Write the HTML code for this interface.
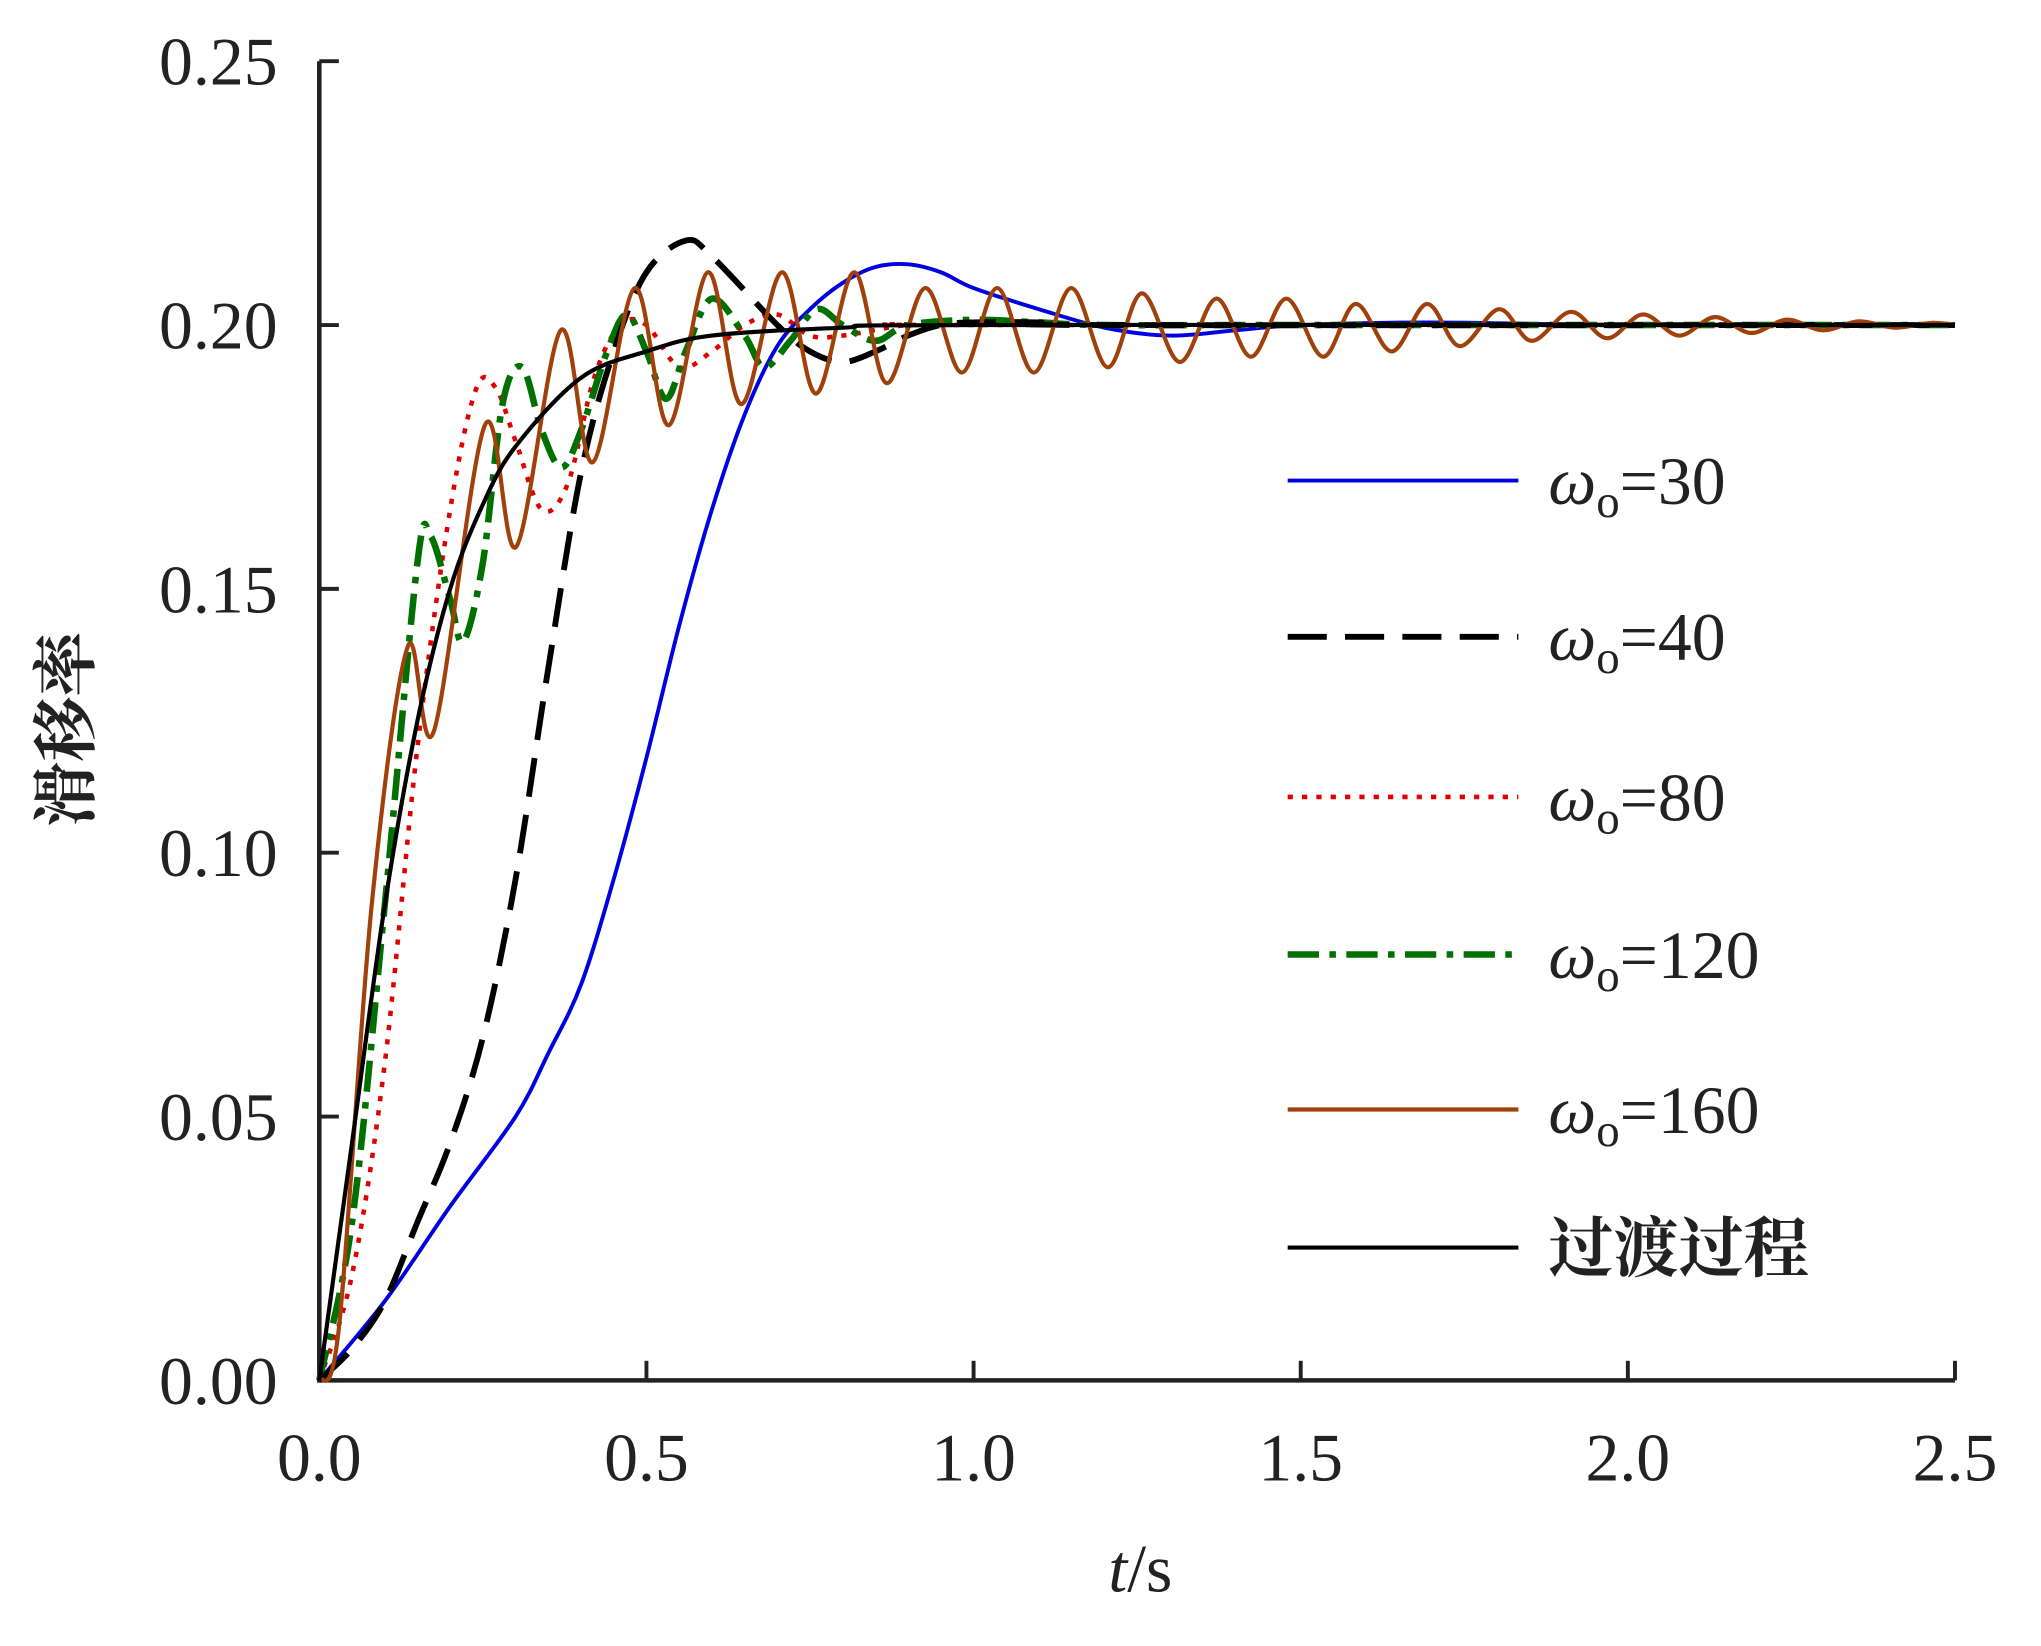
<!DOCTYPE html>
<html><head><meta charset="utf-8"><style>
html,body{margin:0;padding:0;background:#fff;}
svg{display:block;}
text{font-family:"Liberation Serif","Noto Serif CJK SC",serif;fill:#222;}
</style></head><body>
<svg id="chart" width="2041" height="1646" viewBox="0 0 1566 1264" preserveAspectRatio="none" xmlns="http://www.w3.org/2000/svg">
<g id="axes"></g>
<g id="series"></g>
<g id="legend"></g>
</svg>
<script>
const xTicks=[0,0.5,1.0,1.5,2.0,2.5];
const xTickLabels=["0.0","0.5","1.0","1.5","2.0","2.5"];
const yTicks=[0,0.05,0.10,0.15,0.20,0.25];
const yTickLabels=["0.00","0.05","0.10","0.15","0.20","0.25"];
const seriesNames=["ω30","ω40","ω80","ω120","ω160","过渡过程"];
const t30=[0,.1,.2,.3,.35,.4,.45,.5,.55,.6,.65,.7,.75,.8,.85,.9,.95,1.0,1.1,1.2,1.3,1.4,1.5,1.7,2.0,2.5];
const v30=[0,.015,.033,.05,.062,.075,.095,.118,.143,.165,.183,.196,.203,.208,.211,.2115,.21,.207,.203,.1995,.198,.199,.2,.2005,.2,.2];
const t40=[0,.05,.1,.15,.2,.25,.3,.35,.4,.45,.5,.56,.6,.7,.75,.8,.85,.9,.95,1.0,1.1,1.2,2.5];
const v40=[0,.006,.015,.03,.045,.065,.095,.135,.172,.195,.21,.216,.213,.2,.195,.193,.195,.198,.2,.2005,.2005,.2,.2];
const t80=[0,.05,.1,.15,.2,.24,.27,.3,.34,.38,.42,.46,.5,.55,.6,.65,.7,.75,.8,.9,1.0,2.5];
const v80=[0,.02,.06,.12,.165,.188,.188,.178,.165,.17,.19,.2,.2,.192,.195,.2,.202,.198,.198,.2,.2,.2];
const t120=[0,.05,.1,.15,.17,.2,.22,.25,.28,.31,.34,.37,.4,.44,.47,.5,.53,.56,.6,.65,.68,.72,.76,.8,.85,.9,1.0,1.1,1.2,1.5,2.5];
const v120=[0,.03,.09,.155,.16,.148,.14,.155,.185,.192,.18,.173,.18,.195,.202,.195,.186,.195,.205,.198,.192,.197,.203,.2,.197,.2,.201,.2005,.2,.2,.2];
const t160=[0,.03,.08,.135,.175,.253,.301,.369,.418,.482,.534,.594,.645,.707,.759,.817,.867,.926,.982,1.036,1.092,1.149,1.205,1.257,1.315,1.371,1.424,1.478,1.534,1.584,1.639,1.693,1.743,1.803,1.853,1.913,1.968,2.023,2.078,2.133,2.188,2.243,2.298,2.353,2.408,2.463,2.5];
const v160=[0,.01,.09,.139,.123,.181,.158,.199,.174,.207,.181,.21,.185,.21,.187,.21,.189,.207,.191,.207,.191,.207,.192,.206,.193,.205,.194,.205,.194,.204,.195,.204,.196,.203,.197,.2025,.1975,.202,.198,.2015,.1985,.201,.199,.2007,.1995,.2004,.2];
const tT=[0,.05,.1,.15,.2,.25,.3,.4,.5,.6,.8,1.0,2.5];
const vT=[0,.045,.09,.125,.15,.166,.177,.19,.195,.198,.1995,.2,.2];

const X0=245,X1=1500,Y0=1060,Y1=47;
const sx=t=>X0+(t-0)/(2.5)*(X1-X0);
const sy=v=>Y0-(v/0.25)*(Y0-Y1);
const NS="http://www.w3.org/2000/svg";
function mk(tag,attrs,parent){const e=document.createElementNS(NS,tag);for(const k in attrs)e.setAttribute(k,attrs[k]);parent.appendChild(e);return e;}
const axes=document.getElementById('axes');
let e=mk('path',{d:`M${X0},${Y1} L${X0},${Y0} L${X1},${Y0}`,fill:'none',stroke:'#222','stroke-width':3.5},axes);


xTicks.forEach((t,i)=>{
 let l=mk('line',{x1:sx(t),x2:sx(t),y1:Y0,y2:Y0-15,stroke:'#222','stroke-width':3},axes);
 
 
 let tx=mk('text',{x:sx(t),y:1137,'text-anchor':'middle','font-size':52},axes);
 tx.textContent=xTickLabels[i];
 
 
});
yTicks.forEach((v,i)=>{
 let l=mk('line',{x1:X0,x2:X0+15,y1:sy(v),y2:sy(v),stroke:'#222','stroke-width':3},axes);
 
 
 let tx=mk('text',{x:213,y:sy(v)+18,'text-anchor':'end','font-size':52},axes);
 tx.textContent=yTickLabels[i];
 
 
});
let xt=mk('text',{x:875,y:1222,'text-anchor':'middle','font-size':52},axes);
xt.innerHTML='<tspan font-style="italic">t</tspan>/s';


let yt=mk('text',{x:0,y:0,'text-anchor':'middle','font-size':50,'font-weight':'bold',transform:'translate(68,560) rotate(-90)'},axes);
yt.textContent='滑移率';



function smooth(ts,vs){
 const p=ts.map((t,i)=>[sx(t),sy(vs[i])]);
 let d=`M${p[0][0]},${p[0][1]}`;
 for(let i=0;i<p.length-1;i++){
  const p0=p[Math.max(0,i-1)],p1=p[i],p2=p[i+1],p3=p[Math.min(p.length-1,i+2)];
  const c1=[p1[0]+(p2[0]-p0[0])/6,p1[1]+(p2[1]-p0[1])/6];
  const c2=[p2[0]-(p3[0]-p1[0])/6,p2[1]-(p3[1]-p1[1])/6];
  d+=` C${c1[0]},${c1[1]} ${c2[0]},${c2[1]} ${p2[0]},${p2[1]}`;
 }
 return d;
}
const styles=[
 {c:'#0000e0',w:3,da:''},
 {c:'#000',w:4.5,da:'30 14'},
 {c:'#e00000',w:3.5,da:'4 7'},
 {c:'#007000',w:5,da:'24 8 5 8'},
 {c:'#a0400a',w:3.2,da:''},
 {c:'#000',w:3.2,da:''}];
const data=[[t30,v30],[t40,v40],[t80,v80],[t120,v120],[t160,v160],[tT,vT]];
const sg=document.getElementById('series');
const order=[0,2,3,1,4,5];
order.forEach(i=>{
 const s=styles[i];
 let p=mk('path',{d:smooth(data[i][0],data[i][1]),fill:'none',stroke:s.c,'stroke-width':s.w,'stroke-dasharray':s.da,'stroke-linejoin':'round'},sg);
 
 
});
const lg=document.getElementById('legend');
const ly=[369,489,612,733,852,958];
const labels=['=30','=40','=80','=120','=160',''];
ly.forEach((y,i)=>{
 const s=styles[i];
 let l=mk('line',{x1:988,x2:1165,y1:y,y2:y,stroke:s.c,'stroke-width':s.w,'stroke-dasharray':s.da},lg);
 
 
 let tx=mk('text',{x:1188,y:y+18,'font-size':52},lg);
 if(i<5) tx.innerHTML='<tspan font-style="italic">ω</tspan><tspan font-size="36" dy="10">o</tspan><tspan dy="-10">'+labels[i]+'</tspan>';
 else {tx.textContent='过渡过程';tx.setAttribute('font-size','50');tx.setAttribute('font-weight','bold');}
 
 
});
</script>
</body></html>
